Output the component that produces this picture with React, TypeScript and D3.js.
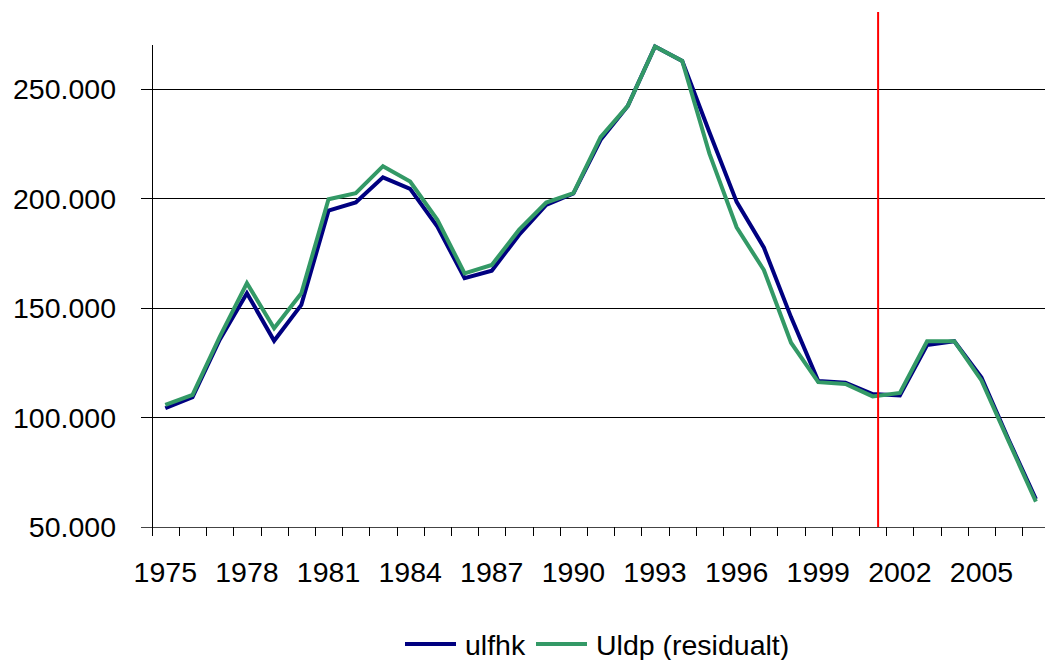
import React from "react";
import * as d3 from "d3";

// years 1975..2007
const years: number[] = [
  1975, 1976, 1977, 1978, 1979, 1980, 1981, 1982, 1983, 1984, 1985,
  1986, 1987, 1988, 1989, 1990, 1991, 1992, 1993, 1994, 1995, 1996,
  1997, 1998, 1999, 2000, 2001, 2002, 2003, 2004, 2005, 2006, 2007,
];

const ulfhk: number[] = [
  104200, 109200, 135500, 156700, 135000, 151400, 194400, 198100, 209600, 204300, 187100,
  163600, 167000, 183300, 197000, 202200, 226700, 242200, 269300, 262700, 230200, 198400,
  177600, 145800, 116600, 115800, 110700, 110000, 133100, 134800, 118200, 89800, 62700,
];

const uldp: number[] = [
  105700, 110300, 136800, 161300, 140700, 156700, 199600, 202400, 214700, 207700, 190200,
  165800, 169600, 185600, 198100, 202400, 227900, 242200, 269300, 262700, 220400, 186800,
  167300, 134100, 116100, 115300, 109600, 111200, 134800, 134800, 116900, 89100, 61600,
];

const yTicks: number[] = [50000, 100000, 150000, 200000, 250000];
const labelYears: number[] = [1975, 1978, 1981, 1984, 1987, 1990, 1993, 1996, 1999, 2002, 2005];

// vertical marker sits a bit right of the 2001 category centre
const markerYear = 2001;
const markerOffset = 0.7;

const W = 1045;
const H = 660;
const FONT = "'Liberation Sans', Arial, sans-serif";

const fmt = (v: number) => d3.format(",")(v).replace(/,/g, ".");

export default function App() {
  const x = d3
    .scaleBand<number>()
    .domain(years)
    .range([151.7, 1049.5])
    .padding(0);
  const y = d3.scaleLinear().domain([50000, 270000]).range([527, 45]);

  const cx = (yr: number) => (x(yr) ?? 0) + x.bandwidth() / 2;

  const line = d3
    .line<number>()
    .x((_, i) => cx(years[i]))
    .y((d) => y(d));

  const series = [
    { name: "ulfhk", values: ulfhk, color: "#000080" },
    { name: "Uldp (residualt)", values: uldp, color: "#339966" },
  ];

  const x0 = x.range()[0];
  const yBase = y(50000);
  const markerX = (x(markerYear) ?? 0) + x.bandwidth() * markerOffset;

  return (
    <svg
      width={W}
      height={H}
      style={{ position: "absolute", left: 0, top: 0, background: "#fff" }}
      fontFamily={FONT}
    >
      {/* gridlines + y ticks */}
      {yTicks.map((t) => (
        <g key={t}>
          <line
            x1={141}
            x2={W}
            y1={Math.round(y(t)) + 0.5}
            y2={Math.round(y(t)) + 0.5}
            stroke={t === 50000 ? "#444" : "#000"}
            strokeWidth={1}
          />
          <text
            x={116}
            y={y(t)}
            dy="0.36em"
            textAnchor="end"
            fontSize={28.5}
            fill="#000"
          >
            {fmt(t)}
          </text>
        </g>
      ))}

      {/* y axis */}
      <line
        x1={Math.round(x0) + 0.5}
        x2={Math.round(x0) + 0.5}
        y1={y(270000)}
        y2={yBase + 9}
        stroke="#000"
      />

      {/* x ticks at category boundaries */}
      {years.map((yr) => {
        const tx = Math.round(x(yr) ?? 0) + 0.5;
        return (
          <line key={yr} x1={tx} x2={tx} y1={yBase} y2={yBase + 9} stroke="#000" />
        );
      })}

      {labelYears.map((yr) => (
        <text
          key={yr}
          x={cx(yr)}
          y={582}
          textAnchor="middle"
          fontSize={28.5}
          fill="#000"
        >
          {yr}
        </text>
      ))}

      {/* series */}
      {series.map((s) => (
        <path
          key={s.name}
          d={line(s.values) ?? ""}
          fill="none"
          stroke={s.color}
          strokeWidth={4}
          strokeLinejoin="miter"
        />
      ))}

      {/* red marker */}
      <line
        x1={markerX}
        x2={markerX}
        y1={12}
        y2={yBase}
        stroke="#ff0000"
        strokeWidth={2}
      />

      {/* legend */}
      <g>
        <line x1={405} x2={456} y1={644} y2={644} stroke="#000080" strokeWidth={4} />
        <text x={465} y={655} fontSize={28.5} fill="#000">ulfhk</text>
        <line x1={536} x2={587} y1={644} y2={644} stroke="#339966" strokeWidth={4} />
        <text x={596} y={655} fontSize={28.5} fill="#000">Uldp (residualt)</text>
      </g>
    </svg>
  );
}
